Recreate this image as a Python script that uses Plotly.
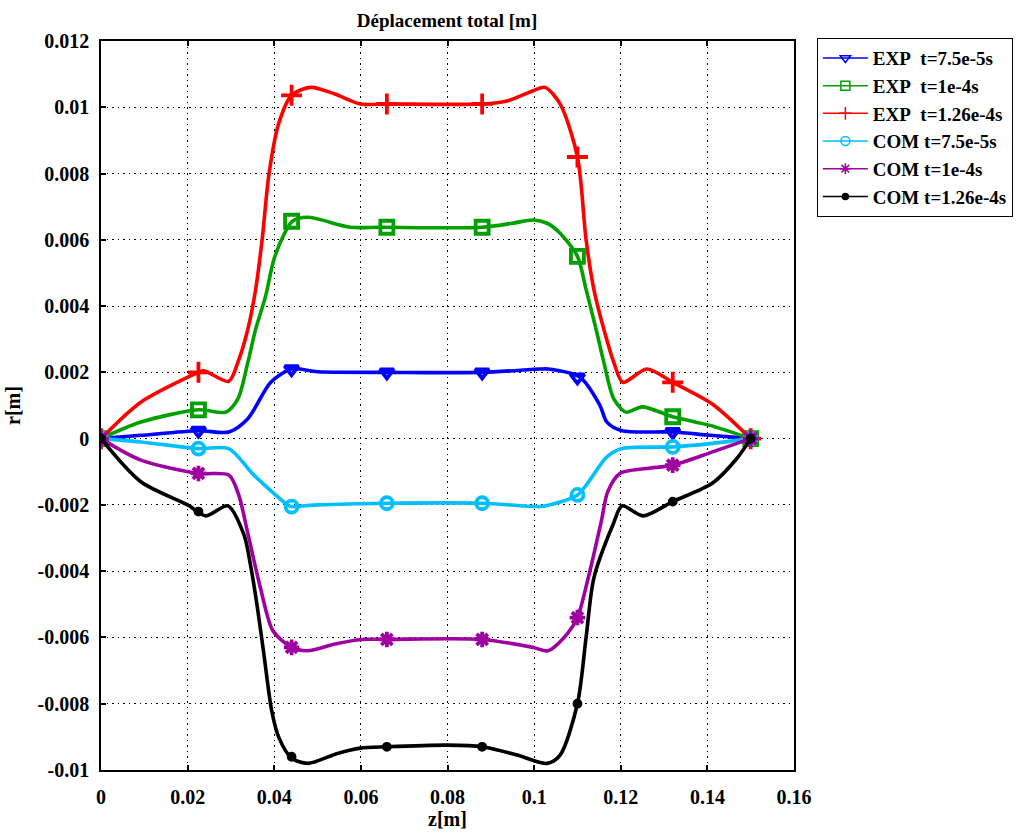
import plotly.graph_objects as go

# ---------------- data ----------------
# curve samples
z_exp1 = [0, 0.0092, 0.0225, 0.0295, 0.0339, 0.0392, 0.044, 0.050, 0.066, 0.088, 0.1014, 0.1032, 0.1106, 0.1152, 0.1168, 0.1203, 0.132, 0.1406, 0.15]
r_exp1 = [0, 0.0001, 0.00024, 0.0002, 0.0006, 0.0017, 0.0021, 0.00202, 0.002, 0.002, 0.0021, 0.0021, 0.00185, 0.001, 0.0005, 0.00024, 0.0002, 0.0001, 0]

z_exp2 = [0, 0.0092, 0.0225, 0.0288, 0.0316, 0.0339, 0.0357, 0.038, 0.0399, 0.0424, 0.0442, 0.0477, 0.0576, 0.0645, 0.088, 0.095, 0.0998, 0.103, 0.106, 0.110, 0.112, 0.1143, 0.1161, 0.1184, 0.1212, 0.125, 0.132, 0.1406, 0.15]
r_exp2 = [0, 0.0005, 0.00087, 0.0008, 0.0012, 0.0023, 0.0033, 0.0043, 0.0054, 0.0062, 0.00656, 0.00668, 0.00638, 0.00638, 0.00638, 0.0065, 0.0066, 0.0065, 0.0062, 0.0055, 0.0045, 0.0033, 0.0023, 0.0012, 0.0008, 0.00096, 0.00066, 0.0004, 0]

z_exp3 = [0, 0.0092, 0.0225, 0.0237, 0.0295, 0.0316, 0.0339, 0.0357, 0.0372, 0.0388, 0.041, 0.044, 0.0484, 0.054, 0.0599, 0.066, 0.088, 0.094, 0.0998, 0.1025, 0.106, 0.110, 0.112, 0.1138, 0.1161, 0.1184, 0.1205, 0.126, 0.132, 0.1412, 0.15]
r_exp3 = [0, 0.0011, 0.002, 0.00205, 0.00173, 0.0023, 0.0033, 0.0045, 0.006, 0.008, 0.0095, 0.01036, 0.0106, 0.0104, 0.0101, 0.0101, 0.0101, 0.0102, 0.0105, 0.0106, 0.0101, 0.0085, 0.006, 0.0045, 0.0033, 0.0023, 0.0017, 0.0021, 0.0017, 0.00104, 0]

z_com1 = [0, 0.0092, 0.0225, 0.0295, 0.0353, 0.0431, 0.044, 0.050, 0.066, 0.088, 0.1014, 0.1035, 0.110, 0.1168, 0.1203, 0.132, 0.1406, 0.15]
r_com1 = [0, -0.0001, -0.0003, -0.0003, -0.0011, -0.002, -0.00205, -0.002, -0.00195, -0.00195, -0.00205, -0.002, -0.0017, -0.00055, -0.0003, -0.00025, -0.00015, 0]

z_com2 = [0, 0.0092, 0.0225, 0.0295, 0.0318, 0.0338, 0.0368, 0.0397, 0.044, 0.0477, 0.054, 0.0599, 0.066, 0.088, 0.0998, 0.1032, 0.1076, 0.110, 0.1125, 0.1155, 0.117, 0.1198, 0.126, 0.132, 0.1412, 0.15]
r_com2 = [0, -0.00065, -0.00105, -0.0011, -0.0017, -0.0028, -0.0045, -0.0058, -0.0063, -0.0064, -0.0062, -0.00606, -0.00606, -0.00606, -0.0063, -0.0064, -0.0059, -0.0054, -0.0042, -0.0025, -0.0016, -0.00105, -0.0009, -0.0008, -0.0004, 0]

z_com3 = [0, 0.0092, 0.020, 0.0242, 0.0293, 0.033, 0.0345, 0.036, 0.0376, 0.0394, 0.041, 0.044, 0.0477, 0.0546, 0.0599, 0.066, 0.080, 0.088, 0.0961, 0.103, 0.106, 0.110, 0.112, 0.1138, 0.1182, 0.1203, 0.1251, 0.132, 0.1412, 0.1468, 0.15]
r_com3 = [0, -0.0013, -0.002, -0.00233, -0.00203, -0.0029, -0.0038, -0.005, -0.0065, -0.0082, -0.009, -0.00964, -0.0098, -0.0095, -0.00934, -0.0093, -0.00925, -0.0093, -0.00955, -0.0098, -0.00955, -0.008, -0.006, -0.0042, -0.0026, -0.00203, -0.00233, -0.0019, -0.00134, -0.0006, 0]

# marker positions
z_mark = [0, 0.0225, 0.044, 0.066, 0.088, 0.110, 0.132, 0.15]
m_exp1 = [0, 0.00024, 0.0021, 0.002, 0.002, 0.00185, 0.0002, 0]
m_exp2 = [0, 0.00087, 0.00656, 0.00638, 0.00638, 0.0055, 0.00066, 0]
m_exp3 = [0, 0.002, 0.01036, 0.0101, 0.0101, 0.0085, 0.0017, 0]
m_com1 = [0, -0.0003, -0.00205, -0.00195, -0.00195, -0.0017, -0.00025, 0]
m_com2 = [0, -0.00105, -0.0063, -0.00606, -0.00606, -0.0054, -0.0008, 0]
m_com3 = [0, -0.0022, -0.0096, -0.0093, -0.0093, -0.008, -0.0019, 0]

names = ["EXP\u00a0 t=7.5e-5s", "EXP\u00a0 t=1e-4s", "EXP\u00a0 t=1.26e-4s",
         "COM t=7.5e-5s", "COM t=1e-4s", "COM t=1.26e-4s"]

x_tickvals = [0, 0.02, 0.04, 0.06, 0.08, 0.1, 0.12, 0.14, 0.16]
x_ticktext = ["0", "0.02", "0.04", "0.06", "0.08", "0.1", "0.12", "0.14", "0.16"]
y_tickvals = [0.012, 0.01, 0.008, 0.006, 0.004, 0.002, 0, -0.002, -0.004, -0.006, -0.008, -0.01]
y_ticktext = ["0.012", "0.01", "0.008", "0.006", "0.004", "0.002", "0", "-0.002", "-0.004", "-0.006", "-0.008", "-0.01"]

# ---------------- styles ----------------
colors = ["#0000FF", "#00A000", "#FF0000", "#00BFFF", "#A000A0", "#000000"]
symbols = ["triangle-down-open", "square-open", "cross-thin-open", "circle-open", "asterisk-open", "circle"]
sizes = [12, 13, 15, 12, 13, 6]

curves = [(z_exp1, r_exp1, m_exp1), (z_exp2, r_exp2, m_exp2), (z_exp3, r_exp3, m_exp3),
          (z_com1, r_com1, m_com1), (z_com2, r_com2, m_com2), (z_com3, r_com3, m_com3)]

FONT = "Liberation Serif"
fig = go.Figure()
for i, (zz, rr, mm) in enumerate(curves):
    c = colors[i]
    fig.add_trace(go.Scatter(x=zz, y=rr, mode="lines", line=dict(color=c, width=3.6, shape="spline", smoothing=0.8),
                             showlegend=False, hoverinfo="skip"))
    fig.add_trace(go.Scatter(x=z_mark, y=mm, mode="markers",
                             marker=dict(symbol=symbols[i], size=sizes[i], color=c, line=dict(color=c, width=3.8)),
                             showlegend=False))
    fig.add_trace(go.Scatter(x=[None], y=[None], mode="lines+markers", name=names[i],
                             line=dict(color=c, width=1.5),
                             marker=dict(symbol=symbols[i], size=9 if i != 5 else 6, color=c,
                                         line=dict(color=c, width=1.5))))

axis_common = dict(showline=True, linecolor="black", linewidth=1.5, ticks="inside", ticklen=5,
                   tickcolor="black", tickwidth=1.5, showgrid=True, gridcolor="black", griddash="1.5px,4px",
                   gridwidth=1.2, zeroline=False,
                   tickfont=dict(family=FONT, size=20, color="black", weight="bold"))

fig.update_xaxes(range=[0, 0.16], tickvals=x_tickvals, ticktext=x_ticktext, mirror="allticks",
                 ticklabelstandoff=8,
                 title=dict(text="z[m]", font=dict(family=FONT, size=20, color="black", weight="bold"), standoff=4),
                 **axis_common)
fig.update_yaxes(range=[-0.01, 0.012], tickvals=y_tickvals, ticktext=y_ticktext, mirror=True,
                 ticklabelstandoff=6,
                 title=dict(text="r[m]", font=dict(family=FONT, size=20, color="black", weight="bold"), standoff=12),
                 **axis_common)

fig.update_layout(
    width=1030, height=838,
    margin=dict(l=100, r=236, t=41, b=64),
    paper_bgcolor="white", plot_bgcolor="white",
    font=dict(family=FONT, size=16, color="black", weight="bold"),
    title=dict(text="Déplacement total [m]", x=(100 + 794) / 2 / 1030, xanchor="center",
               y=1 - 20 / 838, yanchor="middle",
               font=dict(family=FONT, size=19, color="black", weight="bold")),
    legend=dict(x=1.033, y=1.004, xanchor="left", yanchor="top", bgcolor="white",
                bordercolor="black", borderwidth=1, itemwidth=45, tracegroupgap=0,
                font=dict(family=FONT, size=19, color="black", weight="bold")),
    showlegend=True,
)

fig.write_html("out.html")
